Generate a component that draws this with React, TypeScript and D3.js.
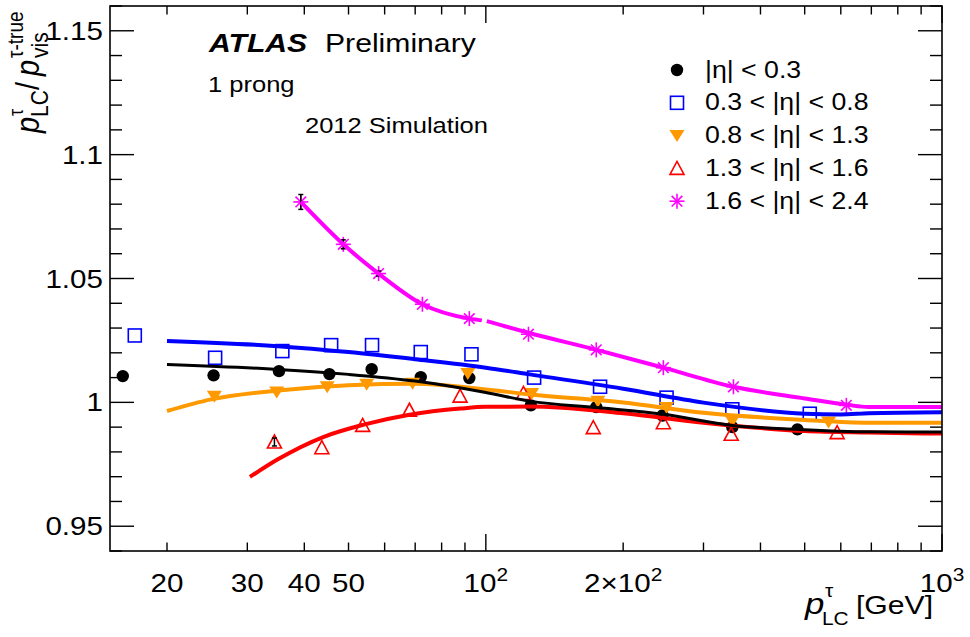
import React from "react";
import * as d3 from "d3";

// ---------- data ----------
const legendLabels = ["|η| < 0.3", "0.3 < |η| < 0.8", "0.8 < |η| < 1.3", "1.3 < |η| < 1.6", "1.6 < |η| < 2.4"];

const blackX = [16.0, 25.3, 35.2, 45.4, 56.2, 72, 92, 125.5, 174.6, 244, 347, 482];
const blackY = [1.0106, 1.0109, 1.0126, 1.0114, 1.0134, 1.0102, 1.0098, 0.9988, 0.9981, 0.9947, 0.99, 0.9891];
const blackErr = [0, 0, 0, 0, 0, 0, 0, 0, 0, 0, 0, 0];

const blueX = [17, 25.5, 35.8, 45.8, 56.3, 72, 93, 127.6, 178, 249, 347, 513];
const blueY = [1.027, 1.018, 1.0207, 1.0231, 1.0231, 1.0203, 1.0194, 1.01, 1.0063, 1.0019, 0.9972, 0.9954];
const blueErr = [0, 0, 0, 0, 0, 0, 0, 0, 0, 0, 0, 0];

const orangeX = [25.4, 34.8, 44.9, 54.8, 69.1, 91.3, 126, 176, 249, 347, 564];
const orangeY = [1.0025, 1.0042, 1.0063, 1.0073, 1.0077, 1.0117, 1.0036, 1.0005, 0.9979, 0.9925, 0.9921];
const orangeErr = [0, 0, 0, 0, 0, 0, 0, 0, 0, 0, 0];

const redX = [34.4, 43.7, 53.7, 68, 87.8, 120.9, 172, 245, 345, 589];
const redY = [0.984, 0.9817, 0.9907, 0.9968, 1.0025, 1.0036, 0.9898, 0.9918, 0.9871, 0.9878];
const redErr = [0.0016, 0, 0, 0, 0, 0, 0, 0, 0, 0];

const magX = [39.3, 48.7, 58.2, 72.6, 92, 124, 174.6, 245, 349, 617];
const magY = [1.0809, 1.0638, 1.052, 1.0396, 1.0338, 1.0275, 1.0212, 1.014, 1.0063, 0.9988];
const magErr = [0.003, 0.0018, 0.001, 0, 0, 0, 0, 0, 0, 0];

// fit curves
const blackFitX = [20, 35, 50, 70, 100, 125, 175, 245, 347, 482, 690, 1000];
const blackFitY = [1.0153, 1.0133, 1.0113, 1.0086, 1.004, 1.0005, 0.9979, 0.9952, 0.9907, 0.9891, 0.9881, 0.988];

const blueFitX = [20, 35, 50, 70, 100, 125, 200, 300, 500, 600, 690, 1000];
const blueFitY = [1.0248, 1.0227, 1.0203, 1.0174, 1.014, 1.0113, 1.0055, 0.9999, 0.9954, 0.9951, 0.9956, 0.996];

const orangeFitX = [20, 25, 35, 50, 70, 100, 125, 200, 300, 500, 690, 1000];
const orangeFitY = [0.9965, 1.0012, 1.0048, 1.0069, 1.0075, 1.0052, 1.0032, 0.9999, 0.9958, 0.9929, 0.9918, 0.9918];

const redFitX = [30.4, 35, 44, 54, 68, 88, 100, 125, 200, 300, 500, 690, 1000];
const redFitY = [0.9699, 0.977, 0.986, 0.991, 0.995, 0.9975, 0.9982, 0.9983, 0.9956, 0.9918, 0.9884, 0.9878, 0.9874];

const magFit1X = [39.3, 48.7, 58.2, 72.6, 92, 98];
const magFit1Y = [1.0809, 1.0638, 1.052, 1.0396, 1.0338, 1.0331];
const magFit2X = [100.5, 124, 175, 245, 349, 500, 620, 690, 1000];
const magFit2Y = [1.0328, 1.0281, 1.0212, 1.014, 1.0063, 1.0016, 0.999, 0.9981, 0.9981];

const xTickLabels = [
  { v: 20, t: "20" },
  { v: 30, t: "30" },
  { v: 40, t: "40" },
  { v: 50, t: "50" },
];

// ---------- layout ----------
const W = 970;
const H = 637;
const L = 110;
const R = 942;
const TOP = 6;
const BOT = 551;
const FONT = "'Liberation Sans', Arial, Helvetica, sans-serif";
const SX = 1.16;

const xScale = d3.scaleLog().domain([15, 1000]).range([L, R]);
const yScale = d3.scaleLinear().domain([0.94, 1.16]).range([BOT, TOP]);

const zip = (xs: number[], ys: number[]) => xs.map((x, i) => [x, ys[i]] as [number, number]);

const lineGen = d3
  .line<[number, number]>()
  .x((d) => xScale(d[0]))
  .y((d) => yScale(d[1]))
  .curve(d3.curveMonotoneX);

function T(props: any) {
  const { x, y, size, anchor = "start", sx = SX, weight, italic, children, fill = "#000" } = props;
  return (
    <text
      transform={`translate(${x},${y}) scale(${sx},1)`}
      fontSize={size}
      textAnchor={anchor}
      fontFamily={FONT}
      fontWeight={weight}
      fontStyle={italic ? "italic" : undefined}
      fill={fill}
    >
      {children}
    </text>
  );
}

function Marker({ kind, cx, cy }: { kind: string; cx: number; cy: number }) {
  if (kind === "circle") return <circle cx={cx} cy={cy} r={6.2} fill="#000" />;
  if (kind === "square")
    return <rect x={cx - 6.5} y={cy - 6.5} width={13} height={13} fill="none" stroke="#0000ff" strokeWidth={1.6} />;
  if (kind === "tdown")
    return <path d={`M${cx - 7.5},${cy - 5.5}L${cx + 7.5},${cy - 5.5}L${cx},${cy + 6.5}Z`} fill="#ff9900" />;
  if (kind === "tup")
    return (
      <path
        d={`M${cx - 7},${cy + 6}L${cx + 7},${cy + 6}L${cx},${cy - 7}Z`}
        fill="none"
        stroke="#ff0000"
        strokeWidth={1.6}
      />
    );
  // star
  const r = 7.5;
  const d = r * Math.SQRT1_2;
  return (
    <g stroke="#ff00ff" strokeWidth={1.6}>
      <line x1={cx - r} y1={cy} x2={cx + r} y2={cy} />
      <line x1={cx} y1={cy - r} x2={cx} y2={cy + r} />
      <line x1={cx - d} y1={cy - d} x2={cx + d} y2={cy + d} />
      <line x1={cx - d} y1={cy + d} x2={cx + d} y2={cy - d} />
    </g>
  );
}

const series = [
  { xs: blackX, ys: blackY, err: blackErr, kind: "circle" },
  { xs: blueX, ys: blueY, err: blueErr, kind: "square" },
  { xs: orangeX, ys: orangeY, err: orangeErr, kind: "tdown" },
  { xs: redX, ys: redY, err: redErr, kind: "tup" },
  { xs: magX, ys: magY, err: magErr, kind: "star" },
];

const fits = [
  { pts: zip(redFitX, redFitY), color: "#ff0000", w: 4 },
  { pts: zip(orangeFitX, orangeFitY), color: "#ff9900", w: 4 },
  { pts: zip(blackFitX, blackFitY), color: "#000000", w: 3 },
  { pts: zip(blueFitX, blueFitY), color: "#0000ff", w: 4 },
  { pts: zip(magFit1X, magFit1Y), color: "#ff00ff", w: 4 },
  { pts: zip(magFit2X, magFit2Y), color: "#ff00ff", w: 4 },
];

export default function App() {
  const xTicks = xScale.ticks().filter((v) => v >= 20 && v <= 1000);
  const isMajorX = (v: number) => Math.abs(Math.log10(v) - Math.round(Math.log10(v))) < 1e-9;
  const yTicks = d3.range(94, 117).map((i) => i / 100);
  const isMajorY = (v: number) => Math.round(v * 100) % 5 === 0;

  return (
    <svg
      width={W}
      height={H}
      viewBox={`0 0 ${W} ${H}`}
      style={{ position: "absolute", left: 0, top: 0, background: "#fff" }}
    >
      <rect x={0} y={0} width={W} height={H} fill="#fff" />

      {/* markers */}
      {series.map((s, si) =>
        s.xs.map((x, i) => {
          const cx = xScale(x);
          const cy = yScale(s.ys[i]);
          const e = s.err[i];
          return (
            <g key={`m${si}-${i}`}>
              <Marker kind={s.kind} cx={cx} cy={cy} />
              {e > 0 && (
                <g stroke="#000" strokeWidth={1.5}>
                  <line x1={cx} x2={cx} y1={yScale(s.ys[i] + e)} y2={yScale(s.ys[i] - e)} />
                  <line x1={cx - 2.5} x2={cx + 2.5} y1={yScale(s.ys[i] + e)} y2={yScale(s.ys[i] + e)} />
                  <line x1={cx - 2.5} x2={cx + 2.5} y1={yScale(s.ys[i] - e)} y2={yScale(s.ys[i] - e)} />
                </g>
              )}
            </g>
          );
        })
      )}

      {/* fit curves */}
      {fits.map((f, i) => (
        <path key={`f${i}`} d={lineGen(f.pts) || ""} fill="none" stroke={f.color} strokeWidth={f.w} />
      ))}

      {/* frame */}
      <rect x={L} y={TOP} width={R - L} height={BOT - TOP} fill="none" stroke="#000" strokeWidth={1.6} />

      {/* x ticks */}
      {xTicks.map((v) => {
        const x = xScale(v);
        const len = isMajorX(v) ? 17 : 8.5;
        return (
          <g key={`xt${v}`} stroke="#000" strokeWidth={1.4}>
            <line x1={x} x2={x} y1={BOT} y2={BOT - len} />
            <line x1={x} x2={x} y1={TOP} y2={TOP + len} />
          </g>
        );
      })}
      {/* y ticks */}
      {yTicks.map((v) => {
        const y = yScale(v);
        const len = isMajorY(v) ? 24 : 12;
        return (
          <g key={`yt${v}`} stroke="#000" strokeWidth={1.4}>
            <line x1={L} x2={L + len} y1={y} y2={y} />
            <line x1={R} x2={R - len} y1={y} y2={y} />
          </g>
        );
      })}

      {/* y tick labels */}
      {yTicks.filter(isMajorY).map((v) => (
        <T key={`yl${v}`} x={103} y={yScale(v) + 9} size={25.5} anchor="end">
          {v === 1 ? "1" : String(v)}
        </T>
      ))}

      {/* x tick labels */}
      {xTickLabels.map((d) => (
        <T key={`xl${d.v}`} x={xScale(d.v)} y={592} size={25.5} anchor="middle">
          {d.t}
        </T>
      ))}
      <T x={xScale(100)} y={592} size={25.5} anchor="middle">
        10<tspan dy={-11} fontSize={18}>2</tspan>
      </T>
      <T x={xScale(200)} y={592} size={25.5} anchor="middle">
        2×10<tspan dy={-11} fontSize={18}>2</tspan>
      </T>
      <T x={xScale(1000)} y={592} size={25.5} anchor="middle">
        10<tspan dy={-11} fontSize={18}>3</tspan>
      </T>

      {/* x axis title */}
      <T x={805} y={614} size={30} italic>
        p
      </T>
      <T x={822} y={625} size={18}>
        LC
      </T>
      <T x={825} y={597} size={18}>
        τ
      </T>
      <T x={856} y={614} size={26}>
        [GeV]
      </T>

      {/* y axis title */}
      <g transform={`translate(39,133) scale(${SX},1) rotate(-90)`} fontFamily={FONT}>
        <text x={0} y={0} fontSize={29} fontStyle="italic">
          p
        </text>
        <text x={16} y={8} fontSize={21}>
          LC
        </text>
        <text x={17} y={-14} fontSize={18}>
          τ
        </text>
        <text x={43} y={0} fontSize={29}>
          /
        </text>
        <text x={57} y={0} fontSize={29} fontStyle="italic">
          p
        </text>
        <text x={75} y={8} fontSize={21}>
          vis
        </text>
        <text x={75} y={-14} fontSize={19}>
          τ-true
        </text>
      </g>

      {/* labels */}
      <T x={209} y={52} size={26} weight="bold" italic>
        ATLAS
      </T>
      <T x={325} y={52} size={26}>
        Preliminary
      </T>
      <T x={208} y={92} size={22}>
        1 prong
      </T>
      <T x={305} y={133} size={22}>
        2012 Simulation
      </T>

      {/* legend */}
      {legendLabels.map((lab, i) => {
        const cy = 70 + i * 32.8;
        return (
          <g key={`lg${i}`}>
            <Marker kind={series[i].kind} cx={677} cy={cy} />
            <T x={705} y={cy + 7.5} size={23}>
              {lab}
            </T>
          </g>
        );
      })}
    </svg>
  );
}
